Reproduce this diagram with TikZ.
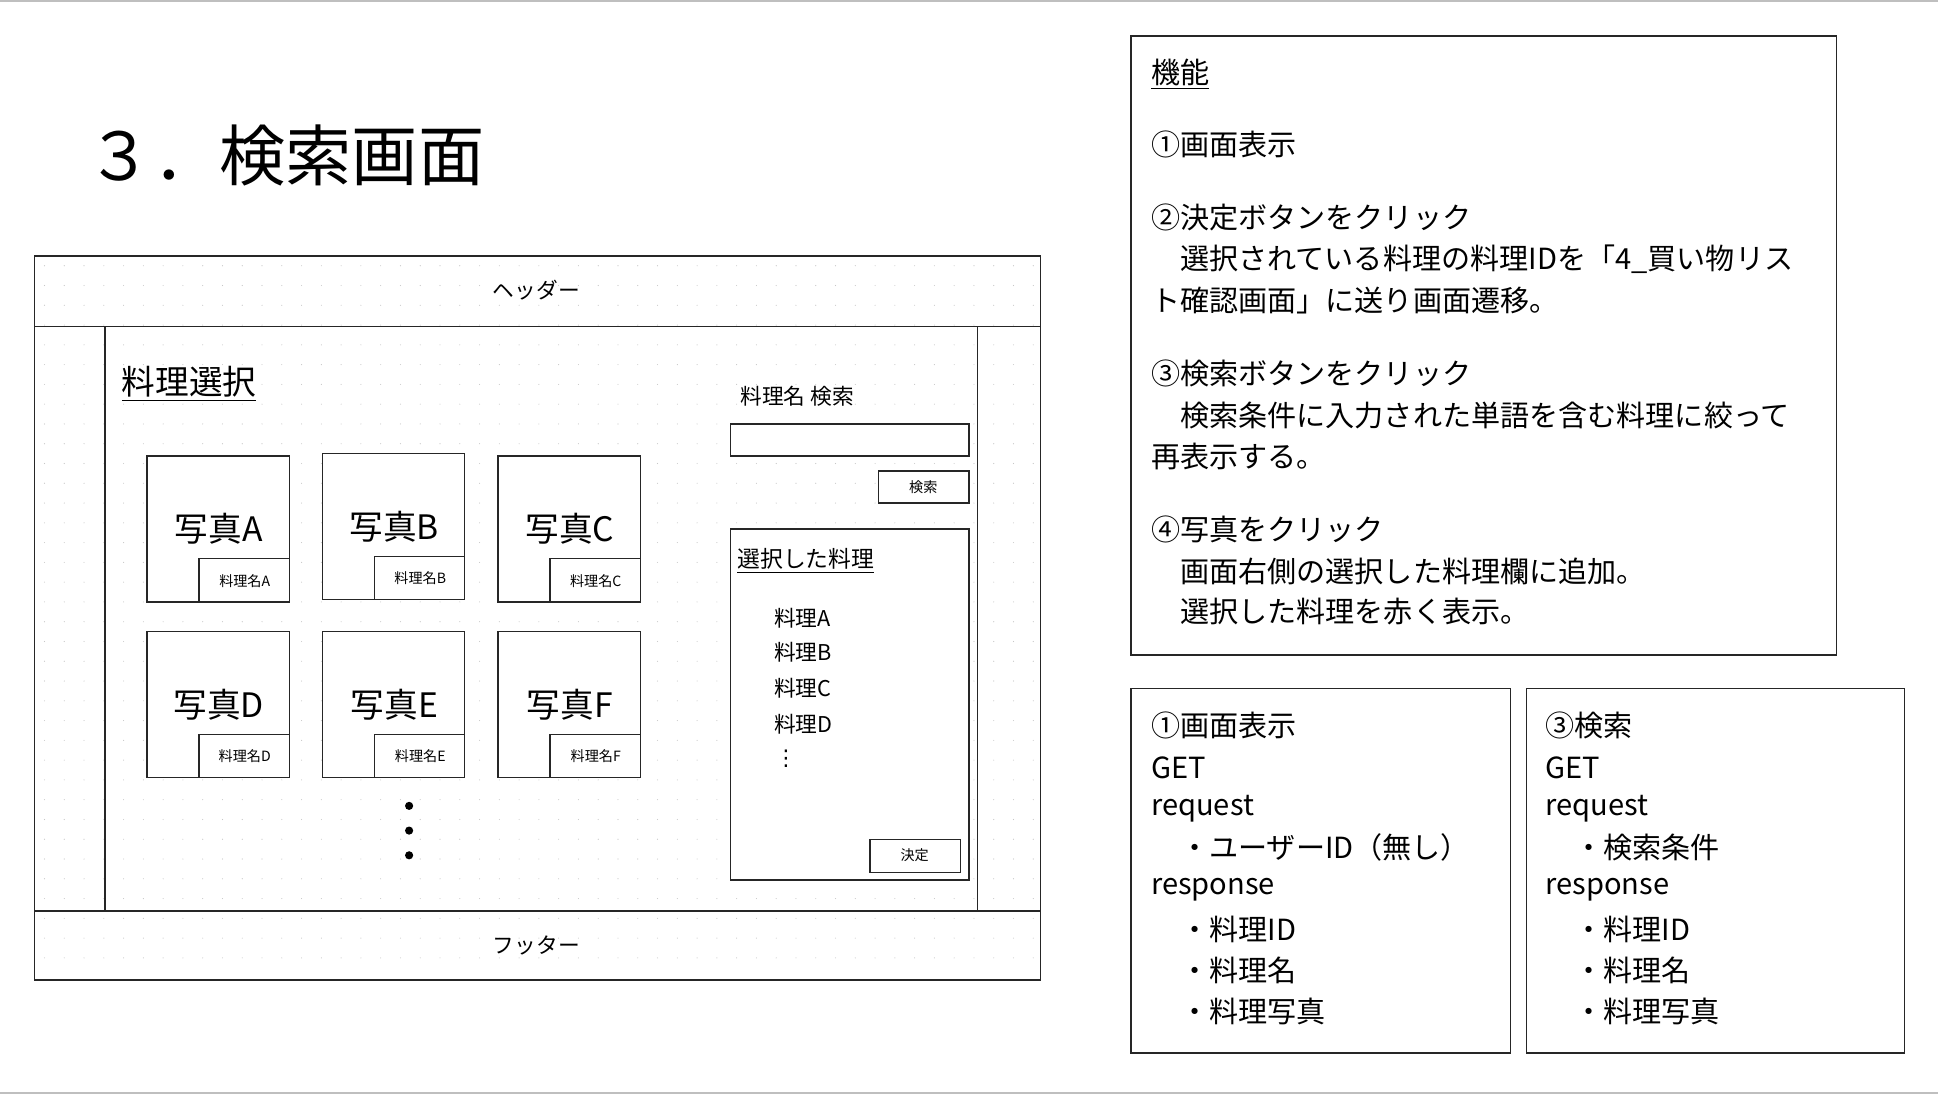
\documentclass[tikz,border=0pt]{standalone}
\usepackage{fontspec}
\setmainfont{Noto Sans CJK JP}
\newfontfamily\djv{DejaVu Sans}
\begin{document}
\begin{tikzpicture}[x=0.02cm,y=-0.02cm,
  box/.style={draw=black!85,line width=0.6pt},
  txt/.style={inner sep=0pt,anchor=west,font=\fontsize{13.4}{15}\selectfont},
  small/.style={inner sep=0pt,font=\fontsize{6.5}{8}\selectfont},
  photo/.style={inner sep=0pt,font=\fontsize{15.5}{18}\selectfont}]
\useasboundingbox (0,0) rectangle (1568,887);
\draw[black!25,line width=1pt] (0,1) -- (1568,1);
\draw[black!25,line width=1pt] (0,884) -- (1568,884);
% title
\node[inner sep=0pt,anchor=west,font=\fontsize{30.5}{32}\selectfont] (title) at (70,126) {３．検索画面};
% grid dots
\foreach \x in {36,52,...,836} \foreach \y in {215,231,...,790} \fill[black!22] (\x,\y) circle (0.45);
% frame
\draw[box] (28,207) rectangle (842,793);
\draw[box] (28,264) -- (842,264);
\draw[box] (28,737) -- (842,737);
\draw[box] (85,264) -- (85,737);
\draw[box] (791,264) -- (791,737);
\node[small,font=\fontsize{10}{12}\selectfont] (hdr) at (434,235) {ヘッダー};
\node[small,font=\fontsize{10}{12}\selectfont] (ftr) at (434,765) {フッター};
\node[inner sep=0pt,font=\fontsize{15.5}{18}\selectfont] (sel) at (153,311) {\underline{料理選択}};
% photos
\foreach \n/\x/\y in {A/119/369,B/261/367,C/403/369,D/119/511,E/261/511,F/403/511}{
  \draw[box,fill=white] (\x,\y) rectangle ++(115,118);
  \draw[box] (\x+42,\y+83) rectangle ++(73,35);
  \node[photo] (p\n) at (\x+58,\y+59) {写真\n};
  \node[small] (l\n) at (\x+79,\y+101) {料理名\n};
}
\foreach \y in {652,672,692} \fill (331,\y) circle (3.3);
% right panel
\node[small,font=\fontsize{10}{12}\selectfont] (srch) at (645,321) {料理名 検索};
\draw[box,fill=white] (591,343) rectangle (784,369);
\draw[box,fill=white] (711,381) rectangle (784,407);
\node[small] (sb) at (747,394) {検索};
\draw[box,fill=white] (591,428) rectangle (784,712);
\node[small,font=\fontsize{10.5}{12}\selectfont] (st) at (652,454) {\underline{選択した料理}};
\foreach \t/\y in {A/500,B/528,C/557,D/586}
  \node[small,anchor=west,font=\fontsize{10}{12}\selectfont] at (626,\y) {料理\t};
\node[small,font=\fontsize{10}{12}\selectfont\djv] at (636,614) {⋮};
\draw[box,fill=white] (704,679) rectangle (777,706);
\node[small] (kb) at (740,692) {決定};
% function box
\draw[box] (915,29) rectangle (1486,530);
\node[txt] at (931,60) {\underline{機能}};
\node[txt] at (931,117) {①画面表示};
\node[txt] at (931,176) {②決定ボタンをクリック};
\node[txt] at (931,210) {　選択されている料理の料理IDを「4\_買い物リス};
\node[txt] at (931,243) {ト確認画面」に送り画面遷移。};
\node[txt] at (931,302) {③検索ボタンをクリック};
\node[txt] at (931,336) {　検索条件に入力された単語を含む料理に絞って};
\node[txt] at (931,369) {再表示する。};
\node[txt] at (931,428) {④写真をクリック};
\node[txt] at (931,462) {　画面右側の選択した料理欄に追加。};
\node[txt] at (931,495) {　選択した料理を赤く表示。};
% api boxes
\draw[box] (915,557) rectangle (1222,852);
\foreach \t/\y in {①画面表示/587,GET/621,request/654,{　・ユーザーID（無し）}/686,response/720,{　・料理ID}/752,{　・料理名}/785,{　・料理写真}/818}
  \node[txt] at (931,\y) {\t};
\draw[box] (1235,557) rectangle (1541,852);
\foreach \t/\y in {③検索/587,GET/621,request/654,{　・検索条件}/686,response/720,{　・料理ID}/752,{　・料理名}/785,{　・料理写真}/818}
  \node[txt] at (1250,\y) {\t};
\end{tikzpicture}
\end{document}
